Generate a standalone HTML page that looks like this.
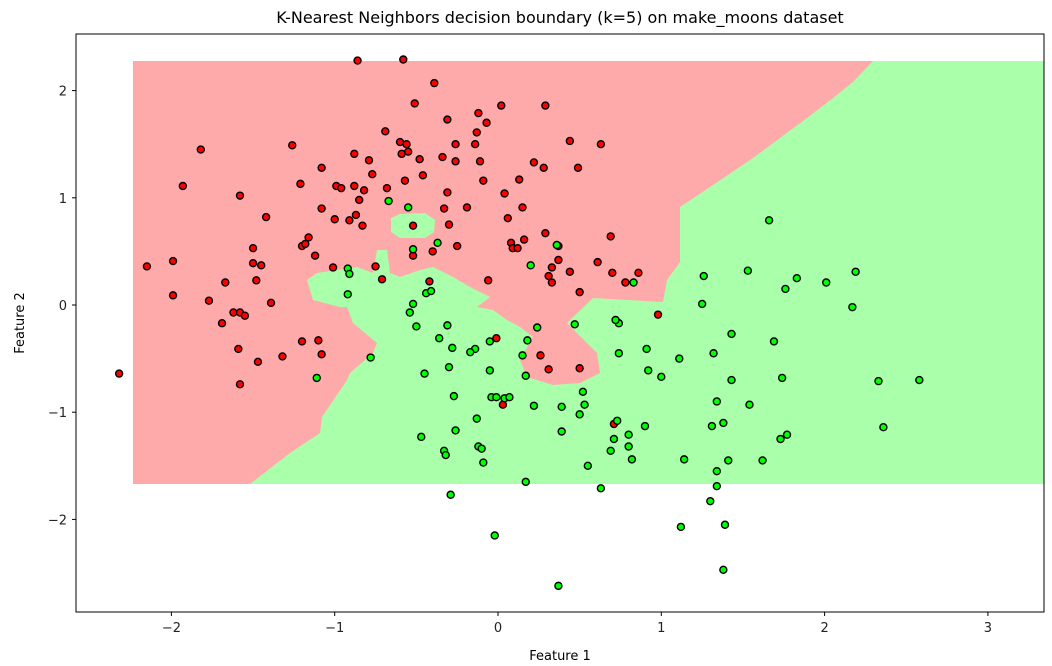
<!DOCTYPE html>
<html><head><meta charset="utf-8">
<style>
html,body{margin:0;padding:0;background:#fff;}
svg{display:block;font-family:"DejaVu Sans","Liberation Sans",sans-serif;}
</style></head>
<body>
<svg id="chart" width="1052" height="666" viewBox="0 0 1052 666">
<g id="regions">
<rect x="133" y="61" width="911" height="423" fill="#ffaaaa"/>
<polygon fill="#aaffaa" points="873,61 1044,61 1044,484 250,484 290,453 320,433 322,417 347,380 350,373 373,353 377,343 353,323 347,307 340,307 313,300 307,280 317,273 337,270 357,267 373,273 377,250 387,250 390,273 400,277 420,270 433,267 453,277 470,287 490,297 477,307 493,310 507,320 520,327 533,337 520,360 527,377 553,385 580,383 600,373 597,353 567,323 593,298 663,302 667,280 680,262 680,207 713,185 753,158 780,138 807,118 833,98 853,82"/>
<polygon fill="#aaffaa" points="391,218 400,214 425,213 435,220 434,232 425,238 400,238 391,232"/>
</g>
<g id="points"></g>
<rect x="76" y="34" width="968" height="578" fill="none" stroke="#000" stroke-width="1"/>
<g id="axes"></g>
<text x="560" y="23" text-anchor="middle" font-size="16">K-Nearest Neighbors decision boundary (k=5) on make_moons dataset</text>
<text x="560" y="660" text-anchor="middle" font-size="13">Feature 1</text>
<text x="24" y="323" text-anchor="middle" font-size="13" transform="rotate(-90 24 323)">Feature 2</text>
</svg>
<script>
const xTicks=[-2,-1,0,1,2,3];
const yTicks=[-2,-1,0,1,2];
const redX=[-2.32,-2.15,-1.99,-1.99,-1.93,-1.82,-1.77,-1.69,-1.67,-1.62,-1.58,-1.58,-1.55,-1.59,-1.58,-1.50,-1.50,-1.48,-1.47,-1.45,-1.42,-1.39,-1.32,-1.26,-1.21,-1.20,-1.18,-1.16,-1.20,-1.12,-1.10,-1.08,-1.08,-1.08,-1.01,-0.99,-1.00,-0.96,-0.91,-0.88,-0.87,-0.88,-0.86,-0.85,-0.83,-0.82,-0.79,-0.77,-0.75,-0.71,-0.69,-0.68,-0.60,-0.59,-0.58,-0.56,-0.55,-0.57,-0.51,-0.52,-0.52,-0.48,-0.46,-0.42,-0.40,-0.39,-0.34,-0.33,-0.31,-0.31,-0.30,-0.26,-0.26,-0.25,-0.19,-0.14,-0.13,-0.12,-0.11,-0.07,-0.09,-0.06,-0.01,0.02,0.03,0.04,0.06,0.08,0.09,0.12,0.13,0.15,0.16,0.22,0.26,0.29,0.28,0.29,0.33,0.31,0.33,0.31,0.37,0.37,0.44,0.44,0.49,0.50,0.50,0.61,0.63,0.69,0.70,0.78,0.86,0.98,0.71];
const redY=[-0.64,0.36,0.41,0.09,1.11,1.45,0.04,-0.17,0.21,-0.07,1.02,-0.07,-0.10,-0.41,-0.74,0.53,0.39,0.23,-0.53,0.37,0.82,0.02,-0.48,1.49,1.13,0.55,0.57,0.63,-0.34,0.46,-0.33,1.28,0.90,-0.46,0.35,1.11,0.80,1.09,0.79,1.41,0.84,1.11,2.28,0.98,0.74,1.07,1.35,1.22,0.36,0.24,1.62,1.09,1.52,1.41,2.29,1.50,1.43,1.16,1.88,0.74,0.46,1.36,1.21,0.22,0.50,2.07,1.38,0.90,1.73,1.05,0.75,1.34,1.50,0.55,0.91,1.50,1.61,1.79,1.34,1.70,1.16,0.23,-0.31,1.86,-0.93,1.04,0.81,0.58,0.53,0.53,1.17,0.91,0.61,1.33,-0.47,1.86,1.28,0.67,0.35,0.27,0.21,-0.60,0.42,0.55,0.31,1.53,1.28,0.12,-0.59,0.40,1.50,0.64,0.30,0.21,0.30,-0.09,-1.11];
const greenX=[-0.67,-0.55,-0.52,-0.37,-0.52,-0.44,-0.41,-0.54,-0.92,-0.91,-0.92,-1.11,-0.78,-0.50,-0.36,-0.31,-0.30,-0.28,-0.45,-0.47,-0.33,-0.32,-0.27,-0.26,-0.14,-0.13,-0.12,-0.10,-0.05,-0.05,-0.09,-0.29,-0.17,-0.04,-0.01,0.04,0.07,0.15,0.17,0.18,0.20,0.24,0.36,0.17,0.22,0.39,0.39,0.47,0.50,0.52,0.53,0.55,0.63,0.69,0.71,0.73,0.74,0.72,0.74,0.80,0.80,0.82,0.83,0.91,0.90,0.92,1.00,1.11,1.14,1.25,1.26,1.30,1.34,1.31,1.32,1.34,1.34,1.38,1.43,1.43,1.41,1.39,1.38,1.53,1.54,1.62,1.66,1.69,1.74,1.77,1.73,1.76,1.83,2.01,2.17,2.19,2.33,2.36,2.58,-0.02,0.37,1.12];
const greenY=[0.97,0.91,0.52,0.58,0.01,0.11,0.13,-0.07,0.34,0.29,0.10,-0.68,-0.49,-0.20,-0.31,-0.19,-0.58,-0.40,-0.64,-1.23,-1.36,-1.40,-0.85,-1.17,-0.41,-1.06,-1.32,-1.34,-0.34,-0.61,-1.47,-1.77,-0.44,-0.86,-0.86,-0.87,-0.86,-0.47,-0.66,-0.33,0.37,-0.21,0.56,-1.65,-0.94,-0.95,-1.18,-0.18,-1.02,-0.81,-0.93,-1.50,-1.71,-1.36,-1.25,-1.08,-0.17,-0.14,-0.45,-1.21,-1.32,-1.44,0.21,-0.41,-1.13,-0.61,-0.67,-0.50,-1.44,0.01,0.27,-1.83,-1.69,-1.13,-0.45,-0.90,-1.55,-1.10,-0.27,-0.70,-1.45,-2.05,-2.47,0.32,-0.93,-1.45,0.79,-0.34,-0.68,-1.21,-1.25,0.15,0.25,0.21,-0.02,0.31,-0.71,-1.14,-0.70,-2.15,-2.62,-2.07];

const NS='http://www.w3.org/2000/svg';
function sx(v){return 498+v*163.3;}
function sy(v){return 305-v*107.2;}
const axes=document.getElementById('axes');
const pts=document.getElementById('points');
function mk(tag,attrs,parent){const e=document.createElementNS(NS,tag);for(const k in attrs)e.setAttribute(k,attrs[k]);parent.appendChild(e);return e;}
function fmt(v){return v<0?'\u2212'+Math.abs(v):String(v);}
xTicks.forEach(v=>{
  const l=mk('line',{x1:sx(v),x2:sx(v),y1:612,y2:616,stroke:'#000'},axes);
  
  
  const t=mk('text',{x:sx(v),y:632,'text-anchor':'middle','font-size':13,fill:'#222'},axes);
  t.textContent=fmt(v);
  
  
});
yTicks.forEach(v=>{
  const l=mk('line',{x1:72,x2:76,y1:sy(v),y2:sy(v),stroke:'#000'},axes);
  
  
  const t=mk('text',{x:67,y:sy(v)+5,'text-anchor':'end','font-size':13,fill:'#222'},axes);
  t.textContent=fmt(v);
  
  
});
redX.forEach((v,i)=>{
  const c=mk('circle',{cx:sx(v),cy:sy(redY[i]),r:3.5,fill:'#ff0000',stroke:'#000','stroke-width':1.4},pts);
  
  
});
greenX.forEach((v,i)=>{
  const c=mk('circle',{cx:sx(v),cy:sy(greenY[i]),r:3.5,fill:'#00ff00',stroke:'#000','stroke-width':1.4},pts);
  
  
});
</script>
</body></html>
